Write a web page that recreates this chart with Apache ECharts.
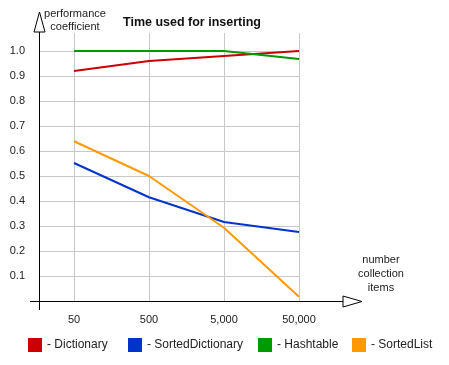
<!DOCTYPE html>
<html><head><meta charset="utf-8">
<script src="https://cdn.jsdelivr.net/npm/echarts@6/dist/echarts.min.js"></script>
<style>html,body{margin:0;padding:0;background:#fff}#c{width:449px;height:365px}</style>
</head><body><div id="c"></div>
<script>
const categories = ['50', '500', '5,000', '50,000'];
const seriesNames = ['Dictionary', 'SortedDictionary', 'Hashtable', 'SortedList'];
const dictionary = [0.92, 0.96, 0.98, 1.0];
const sortedDictionary = [0.552, 0.415, 0.316, 0.276];
const hashtable = [1.0, 1.0, 1.0, 0.968];
const sortedList = [0.639, 0.50, 0.293, 0.017];
const yTicks = ['0.1','0.2','0.3','0.4','0.5','0.6','0.7','0.8','0.9','1.0'];
const colors = ['#cc0000', '#0033cc', '#009900', '#ff9900'];
const values = [dictionary, sortedDictionary, hashtable, sortedList];

const n = categories.length;
// x position: inverse value axis, last category at 0
const pos = i => (n - 1 - i);
const font = 'Liberation Sans, Arial, sans-serif';

const chart = echarts.init(document.getElementById('c'));
const gridLineColor = '#c8c8c8';
chart.setOption({
  animation: false,
  color: colors,
  textStyle: { fontFamily: font },
  title: {
    text: 'Time used for inserting', left: 187, top: 11, textAlign: 'center',
    textStyle: { fontSize: 12.5, fontWeight: 'bold', color: '#111', fontFamily: font }
  },
  grid: { left: 39, top: 33, width: 260, height: 268, containLabel: false },
  xAxis: {
    type: 'value', inverse: true, min: 0, max: 3.4667, interval: 1,
    axisLine: { show: false }, axisTick: { show: false },
    axisLabel: {
      margin: 13, fontSize: 11, color: '#222',
      formatter: v => (Math.abs(v - Math.round(v)) < 1e-6 && Math.round(v) <= n - 1) ? categories[n - 1 - Math.round(v)] : '',
      showMaxLabel: false
    },
    splitLine: { show: true, lineStyle: { color: [gridLineColor, gridLineColor, gridLineColor, gridLineColor, 'rgba(0,0,0,0)'], width: 1 } }
  },
  yAxis: {
    type: 'value', min: 0, max: 1.072, interval: 0.1,
    axisLine: { show: false }, axisTick: { show: false },
    axisLabel: {
      margin: 14, fontSize: 11, color: '#222',
      formatter: v => { const i = Math.round(v * 10); return (Math.abs(v * 10 - i) < 1e-6 && i >= 1 && i <= 10) ? yTicks[i - 1] : ''; },
      showMaxLabel: false
    },
    splitLine: { show: true, lineStyle: { color: ['rgba(0,0,0,0)', gridLineColor, gridLineColor, gridLineColor, gridLineColor, gridLineColor, gridLineColor, gridLineColor, gridLineColor, gridLineColor, gridLineColor, 'rgba(0,0,0,0)'], width: 1 } }
  },
  legend: seriesNames.map((name, i) => ({
    data: [name], left: [28, 128, 258, 352][i], top: 338, padding: 0,
    itemWidth: 14, itemHeight: 14, itemGap: 0, icon: 'rect',
    formatter: '- {name}',
    textStyle: { fontSize: 12, color: '#222', fontFamily: font },
    selectedMode: false
  })),
  series: seriesNames.map((name, si) => ({
    name, type: 'line', symbol: 'none',
    lineStyle: { width: 2, color: colors[si] },
    itemStyle: { color: colors[si] },
    data: values[si].map((v, i) => [pos(i), v])
  })),
  graphic: [
    { type: 'line', shape: { x1: 30, y1: 301.5, x2: 343, y2: 301.5 }, style: { stroke: '#000', lineWidth: 1 }, z: 100 },
    { type: 'polygon', shape: { points: [[343, 296], [362, 301.5], [343, 307]] }, style: { fill: '#fff', stroke: '#000', lineWidth: 1 }, z: 100 },
    { type: 'line', shape: { x1: 39.5, y1: 32, x2: 39.5, y2: 310 }, style: { stroke: '#000', lineWidth: 1 }, z: 100 },
    { type: 'polygon', shape: { points: [[34, 32], [39.5, 12], [45, 32]] }, style: { fill: '#fff', stroke: '#000', lineWidth: 1 }, z: 100 },
    { type: 'text', x: 75, y: 7, style: { text: 'performance\ncoefficient', align: 'center', fill: '#222', fontSize: 11, fontFamily: font, lineHeight: 13 }, z: 100 },
    { type: 'text', x: 381, y: 253, style: { text: 'number\ncollection\nitems', align: 'center', fill: '#222', fontSize: 11, fontFamily: font, lineHeight: 14 }, z: 100 }
  ]
});
</script>
</body></html>
